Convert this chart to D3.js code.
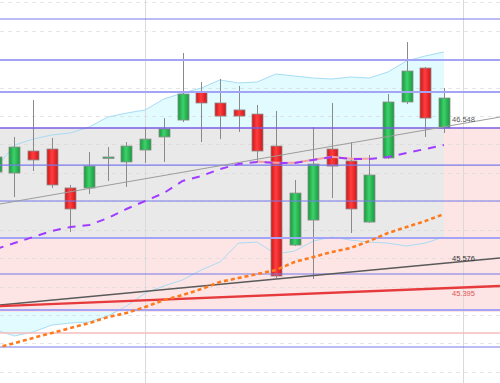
<!DOCTYPE html>
<html><head><meta charset="utf-8">
<script src="https://cdn.jsdelivr.net/npm/d3@7/dist/d3.min.js"></script>
<style>html,body{margin:0;padding:0;background:#fff}svg{display:block}</style>
</head><body>
<svg id="chart" width="500" height="383"></svg>
<script>
// ---------- data ----------
const bars  = [0,1,2,3,4,5,6,7,8,9,10,11,12,13,14,15,16,17,18,19,20,21,22,23,24];
const open  = [46.206,46.199,46.354,46.368,46.094,46.094,46.305,46.277,46.361,46.453,46.572,46.769,46.692,46.643,46.614,46.389,45.692,45.868,46.368,46.284,45.854,46.305,46.699,46.938,46.516];
const high  = [46.361,46.453,46.713,46.446,46.115,46.347,46.382,46.417,46.523,46.586,47.044,46.840,46.861,46.812,46.678,46.636,46.150,46.523,46.692,46.417,46.326,46.755,47.121,46.945,46.797];
const low   = [46.164,46.030,46.213,46.094,45.784,46.051,46.143,46.101,46.270,46.277,46.558,46.417,46.438,46.488,46.270,45.460,45.685,45.453,46.023,45.777,45.847,46.298,46.685,46.453,46.481];
const close = [46.312,46.382,46.291,46.115,45.946,46.248,46.312,46.389,46.438,46.509,46.755,46.692,46.600,46.600,46.354,45.474,46.058,46.262,46.248,45.946,46.185,46.699,46.917,46.586,46.727];

const bandUpper = [46.234,46.396,46.438,46.467,46.481,46.523,46.593,46.621,46.643,46.720,46.762,46.797,46.854,46.833,46.840,46.896,46.882,46.868,46.861,46.875,46.868,46.910,46.988,47.023,47.051];
const bandLower = [45.094,45.052,45.080,45.129,45.143,45.150,45.192,45.263,45.354,45.404,45.446,45.516,45.573,45.706,45.713,45.629,45.650,45.720,45.749,45.727,45.713,45.706,45.685,45.706,45.749];
const smaSlow   = [44.967,45.002,45.038,45.073,45.108,45.143,45.185,45.214,45.256,45.305,45.340,45.382,45.432,45.460,45.488,45.516,45.573,45.608,45.643,45.671,45.720,45.777,45.819,45.861,45.910];
const smaFast   = [45.664,45.706,45.749,45.791,45.819,45.833,45.882,45.946,46.002,46.058,46.143,46.178,46.227,46.262,46.277,46.270,46.270,46.291,46.312,46.298,46.298,46.312,46.340,46.368,46.396];
const smaAltBars = [14,15,16,17,18,19,20];
const smaAlt     = [46.280,46.272,46.272,46.292,46.314,46.300,46.300];

const thinLevels  = [47.283,46.255,46.002,45.488,44.974];
const thickLevels = [46.995,46.769,45.741,45.234];
const keyLevel    = 46.516;
const pinkLevel   = 45.073;
const pinkZone    = [46.516,45.221];
const greyZone    = [46.516,45.741];
const markerBars  = [8,25];

// trend lines: [bar0, price0, bar1, price1]
const trendThin = [0,45.976,27,46.593];
const trendDark = [0,45.267,27,45.601];
const trendRed  = [0,45.261,27,45.404];
const priceLabels = [46.548,45.576,45.395];

// ---------- scales ----------
const W = 500, H = 383;
const x = d3.scaleLinear().domain([0,24]).range([-4.2,443.9]);
const y = d3.scaleLinear().domain([44.721,47.417]).range([H,0]);
const svg = d3.select("#chart");

const defs = svg.append("defs");
function grad(id, edge, mid){
  const g = defs.append("linearGradient").attr("id",id).attr("x1","0").attr("x2","1").attr("y1","0").attr("y2","0");
  g.append("stop").attr("offset","0%").attr("stop-color",edge);
  g.append("stop").attr("offset","45%").attr("stop-color",mid);
  g.append("stop").attr("offset","100%").attr("stop-color",edge);
}
grad("gUp","#159a3c","#3fd06c");
grad("gDn","#d01418","#ff3f3f");

// band fill
const area = d3.area().x((d,i)=>x(bars[i])).y0((d,i)=>y(bandLower[i])).y1(d=>y(d));
svg.append("path").datum(bandUpper).attr("d",area).attr("fill","#e2fbfe");

// pink zone
svg.append("rect").attr("x",0).attr("width",W)
  .attr("y",y(pinkZone[0])).attr("height",y(pinkZone[1])-y(pinkZone[0])).attr("fill","#fde5e5");
// grey zone
svg.append("rect").attr("x",0).attr("width",x(bars[bars.length-1]))
  .attr("y",y(greyZone[0])).attr("height",y(greyZone[1])-y(greyZone[0])).attr("fill","#e9e9ea");

// grid (dashed)
svg.append("g").selectAll("line").data(y.ticks(14)).join("line")
  .attr("x1",0).attr("x2",W).attr("y1",d=>Math.round(y(d))+0.5).attr("y2",d=>Math.round(y(d))+0.5)
  .attr("stroke","#d6d6d6").attr("stroke-opacity",0.6).attr("stroke-dasharray","4,4");

// vertical markers
svg.append("g").selectAll("line").data(markerBars).join("line")
  .attr("x1",d=>Math.round(x(d))+0.5).attr("x2",d=>Math.round(x(d))+0.5).attr("y1",0).attr("y2",H)
  .attr("stroke","#dadada").attr("stroke-width",1);

// band lines
const bandLine = d3.line().x((d,i)=>x(bars[i])).y(d=>y(d));
svg.append("path").datum(bandUpper).attr("d",bandLine).attr("fill","none").attr("stroke","#a8dcf4").attr("stroke-width",1);
svg.append("path").datum(bandLower).attr("d",bandLine).attr("fill","none").attr("stroke","#a8dcf4").attr("stroke-width",1);

// candles
const cw = 11;
const cg = svg.append("g");
bars.forEach((b,i)=>{
  const cx = Math.round(x(b))+0.5;
  cg.append("line").attr("x1",cx).attr("x2",cx).attr("y1",y(high[i])).attr("y2",y(low[i]))
    .attr("stroke","#8a8a8a").attr("stroke-width",1);
  const up = close[i]>=open[i];
  const top = y(Math.max(open[i],close[i])), bot = y(Math.min(open[i],close[i]));
  cg.append("rect").attr("x",cx-cw/2).attr("width",cw).attr("y",top).attr("height",Math.max(1.5,bot-top))
    .attr("fill",up?"url(#gUp)":"url(#gDn)").attr("stroke","#8c8c8c").attr("stroke-width",0.8);
});

// horizontal levels
const hl = svg.append("g");
hl.selectAll(".thin").data(thinLevels).join("line")
  .attr("x1",0).attr("x2",W).attr("y1",d=>y(d)).attr("y2",d=>y(d))
  .attr("stroke","#7878ec").attr("stroke-width",1.1);
hl.selectAll(".thick").data(thickLevels).join("line")
  .attr("x1",0).attr("x2",W).attr("y1",d=>y(d)).attr("y2",d=>y(d))
  .attr("stroke","#a4a4f6").attr("stroke-width",2);
hl.append("line").attr("x1",0).attr("x2",W).attr("y1",y(keyLevel)).attr("y2",y(keyLevel))
  .attr("stroke","#7a5ce2").attr("stroke-width",1.6);
hl.append("line").attr("x1",0).attr("x2",W).attr("y1",y(pinkLevel)).attr("y2",y(pinkLevel))
  .attr("stroke","#f5bcbc").attr("stroke-width",1.5);

// trend lines
function trend(t,color,w){
  svg.append("line").attr("x1",x(t[0])).attr("y1",y(t[1])).attr("x2",x(t[2])).attr("y2",y(t[3]))
    .attr("stroke",color).attr("stroke-width",w);
}
trend(trendThin,"#9c9c9c",1);
trend(trendDark,"#5a5a5a",1.6);
trend(trendRed,"#e63a3c",2.4);

// moving averages
const maLine = d3.line().x((d,i)=>x(bars[i])).y(d=>y(d));
svg.append("path").datum(smaSlow).attr("d",maLine).attr("fill","none")
  .attr("stroke","#ff7a1c").attr("stroke-width",2.6).attr("stroke-dasharray","4,3");
const altLine = d3.line().x((d,i)=>x(smaAltBars[i])).y(d=>y(d));
svg.append("path").datum(smaAlt).attr("d",altLine).attr("fill","none")
  .attr("stroke","#f2a0a0").attr("stroke-width",2);
svg.append("path").datum(smaFast).attr("d",maLine).attr("fill","none")
  .attr("stroke","#a03cff").attr("stroke-width",2).attr("stroke-dasharray","8,7");

// labels
const lab = svg.append("g").attr("font-family","'Liberation Sans', Arial, sans-serif").attr("font-size","7.5px");
lab.append("text").attr("x",452).attr("y",y(priceLabels[0])-1).attr("fill","#555").text(priceLabels[0].toFixed(3));
lab.append("text").attr("x",452).attr("y",y(priceLabels[1])-1).attr("fill","#333").text(priceLabels[1].toFixed(3));
lab.append("text").attr("x",452).attr("y",y(priceLabels[2])+9).attr("fill","#e05555").text(priceLabels[2].toFixed(3));
</script>
</body></html>
